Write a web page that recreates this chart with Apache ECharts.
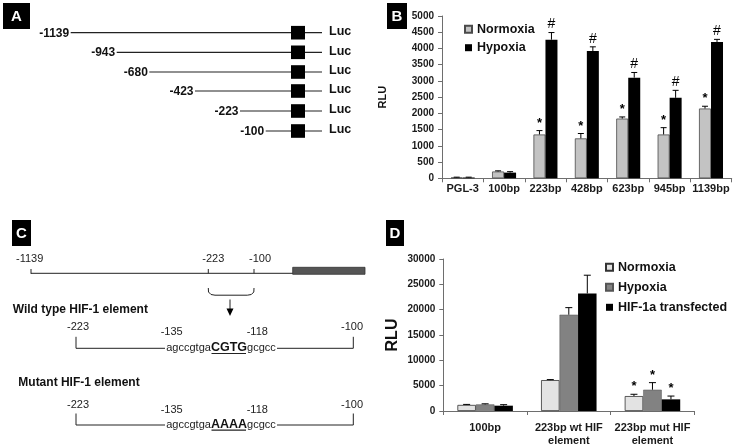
<!DOCTYPE html>
<html><head><meta charset="utf-8">
<script src="https://cdn.jsdelivr.net/npm/echarts@6/dist/echarts.min.js"></script>
<style>html,body{margin:0;padding:0;background:#fff}#c{width:735px;height:447px}</style>
</head><body><div id="c"></div>
<script>
// ---------- Panel B data ----------
const bCategories = ['PGL-3','100bp','223bp','428bp','623bp','945bp','1139bp'];
const bNormoxia    = [25, 210, 1350, 1230, 1840, 1350, 2150];
const bNormoxiaErr = [10, 20, 120, 150, 50, 210, 70];
const bHypoxia     = [25, 175, 4270, 3920, 3100, 2480, 4200];
const bHypoxiaErr  = [10, 30, 220, 130, 160, 230, 80];
const bNormoxiaMark = ['', '', '*', '*', '*', '*', '*'];
const bHypoxiaMark  = ['', '', '#', '#', '#', '#', '#'];
const bYMax = 5000, bYStep = 500;

// ---------- Panel D data ----------
const dCategories = ['100bp', '223bp wt HIF\nelement', '223bp mut HIF\nelement'];
const dNormoxia    = [1200, 6100, 2950];
const dNormoxiaErr = [100, 100, 350];
const dHypoxia     = [1300, 19000, 4200];
const dHypoxiaErr  = [120, 1400, 1400];
const dHif         = [1050, 23200, 2300];
const dHifErr      = [200, 3600, 650];
const dNormoxiaMark = ['', '', '*'];
const dHypoxiaMark  = ['', '', '*'];
const dHifMark      = ['', '', '*'];
const dYMax = 30000, dYStep = 5000;

// ---------- Panel A / C text ----------
const aConstructs = ['-1139', '-943', '-680', '-423', '-223', '-100'];
const aReporter = 'Luc';
const cTopLabels = ['-1139', '-223', '-100'];
const cRowLabels = ['-223', '-135', '-118', '-100'];
const cWildTitle = 'Wild type HIF-1 element';
const cMutTitle = 'Mutant HIF-1 element';
const cSeqLeft = 'agccgtga', cSeqRight = 'gcgcc';
const cWildCore = 'CGTG', cMutCore = 'AAAA';

// ---------- layout ----------
const FONT = '"Liberation Sans", Arial, sans-serif';
const aRowY = [32.7, 52.3, 72, 91, 111, 131];
const aStartX = [70.7, 116.7, 149.3, 195, 240, 265.7];

const chart = echarts.init(document.getElementById('c'), null, {renderer: 'canvas'});

function errSeries(name, gi, vals, errs, marks, offset, capW, markStyle) {
  return {
    type: 'custom', name: name, xAxisIndex: gi, yAxisIndex: gi, z: 5, silent: true, clip: false,
    data: vals.map((v, i) => [i, v, errs[i]]),
    encode: {x: 0, y: 1},
    renderItem: function (params, api) {
      const i = api.value(0), v = api.value(1), e = api.value(2);
      const base = api.coord([i, v]);
      const top = api.coord([i, v + e])[1];
      const x = base[0] + offset;
      const ch = [
        {type: 'line', shape: {x1: x, y1: base[1], x2: x, y2: top}, style: {stroke: '#000', lineWidth: 1}},
        {type: 'line', shape: {x1: x - capW / 2, y1: top, x2: x + capW / 2, y2: top}, style: {stroke: '#000', lineWidth: 1}}
      ];
      const m = marks[params.dataIndex];
      if (m) {
        ch.push({type: 'text', style: Object.assign({text: m, x: x, y: top - 1, textAlign: 'center', textVerticalAlign: 'bottom', fill: '#000', fontFamily: FONT}, markStyle[m])});
      }
      return {type: 'group', children: ch};
    }
  };
}

const markB = {'*': {fontSize: 13, fontWeight: 'bold'}, '#': {fontSize: 14, fontWeight: 'normal'}};
const markD = {'*': {fontSize: 13, fontWeight: 'bold'}};

const axisLineStyle = {lineStyle: {color: '#6e6e6e', width: 1}};
const plain = v => String(v);

// graphics for panels A and C
const g = [];
function box(x, y, w, h, letter) {
  g.push({type: 'rect', shape: {x: x, y: y, width: w, height: h}, style: {fill: '#000'}});
  g.push({type: 'text', style: {text: letter, x: x + w / 2, y: y + h / 2 + 0.5, textAlign: 'center', textVerticalAlign: 'middle', fill: '#fff', fontSize: 15, fontWeight: 'bold', fontFamily: FONT}});
}
box(3, 3, 27, 26, 'A');
box(387, 3, 20, 26, 'B');
box(12, 220, 19, 26, 'C');
box(386, 220, 18, 26, 'D');

// Panel A
aConstructs.forEach((lab, k) => {
  const y = aRowY[k];
  g.push({type: 'line', shape: {x1: aStartX[k], y1: y, x2: 322, y2: y}, style: {stroke: '#222', lineWidth: 1.2}});
  g.push({type: 'rect', shape: {x: 291, y: y - 6.8, width: 14, height: 13.6}, style: {fill: '#000'}});
  g.push({type: 'text', style: {text: lab, x: aStartX[k] - 1.5, y: y + 0.5, textAlign: 'right', textVerticalAlign: 'middle', fill: '#111', fontSize: 12, fontWeight: 'bold', fontFamily: FONT}});
  g.push({type: 'text', style: {text: aReporter, x: 329, y: y - 1, textAlign: 'left', textVerticalAlign: 'middle', fill: '#111', fontSize: 12.5, fontWeight: 'bold', fontFamily: FONT}});
});

// Panel C
const ln = (x1, y1, x2, y2, w) => g.push({type: 'line', shape: {x1, y1, x2, y2}, style: {stroke: '#222', lineWidth: w || 1}});
const tx = (t, x, y, o) => g.push({type: 'text', style: Object.assign({text: t, x: x, y: y, textAlign: 'center', textVerticalAlign: 'middle', fill: '#222', fontSize: 11, fontFamily: FONT}, o || {})});
ln(31, 273.3, 293, 273.3);
ln(31, 269, 31, 273.8); ln(208.3, 269, 208.3, 273.3); ln(254, 269, 254, 273.3);
g.push({type: 'rect', shape: {x: 292.7, y: 267.3, width: 72.3, height: 7}, style: {fill: '#555', stroke: '#333', lineWidth: 0.8}});
tx(cTopLabels[0], 29.7, 259.3); tx(cTopLabels[1], 213.3, 259.3); tx(cTopLabels[2], 260, 259.3);
g.push({type: 'polyline', shape: {points: [[208.3, 288], [208.5, 292], [211, 294.5], [215, 295.2], [247.3, 295.2], [251.3, 294.5], [253.8, 292], [254, 288]]}, style: {stroke: '#222', lineWidth: 1, fill: null}});
ln(230, 299.5, 230, 310);
g.push({type: 'polygon', shape: {points: [[226.5, 308.5], [233.5, 308.5], [230, 316]]}, style: {fill: '#000'}});

function seqRow(title, titleX, titleY, labY, lineY, core) {
  tx(title, titleX, titleY, {textAlign: 'left', fontSize: 12, fontWeight: 'bold', fill: '#111'});
  tx(cRowLabels[0], 78, labY); tx(cRowLabels[1], 171.7, labY + 5); tx(cRowLabels[2], 257.3, labY + 5); tx(cRowLabels[3], 352, labY);
  ln(76, lineY - 11.5, 76, lineY); ln(353.3, lineY - 11.5, 353.3, lineY);
  ln(76, lineY, 165, lineY); ln(277, lineY, 353.3, lineY);
  g.push({type: 'text', style: {text: cSeqLeft + '{b|' + core + '}' + cSeqRight, x: 221, y: lineY - 0.5, textAlign: 'center', textVerticalAlign: 'middle', fill: '#222', fontSize: 11, fontFamily: FONT,
    rich: {b: {fontSize: 12.5, fontWeight: 'bold', fill: '#111', fontFamily: FONT}}}});
  ln(211.5, lineY + 5.2, 246, lineY + 5.2, 1.2);
}
seqRow(cWildTitle, 12.7, 309.3, 327.3, 348.3, cWildCore);
seqRow(cMutTitle, 18.3, 382.7, 405, 425, cMutCore);

const option = {
  animation: false,
  backgroundColor: '#fff',
  textStyle: {fontFamily: FONT},
  grid: [
    {left: 442, right: 3.3, top: 16, bottom: 268.7},
    {left: 443.3, right: 40.7, top: 259, bottom: 36}
  ],
  legend: [
    {orient: 'vertical', left: 459, top: 17.3, itemWidth: 7, itemHeight: 7, itemGap: 4.4, icon: 'rect',
      data: ['Normoxia', 'Hypoxia'], selectedMode: false,
      textStyle: {fontSize: 12.5, fontWeight: 'bold', color: '#111', lineHeight: 14, fontFamily: FONT}},
    {orient: 'vertical', left: 600, top: 255.3, itemWidth: 7, itemHeight: 7, itemGap: 6, icon: 'rect',
      data: ['D:Normoxia', 'D:Hypoxia', 'D:HIF-1a transfected'], selectedMode: false,
      formatter: n => n.replace(/^D:/, ''),
      textStyle: {fontSize: 12.5, fontWeight: 'bold', color: '#111', lineHeight: 14, fontFamily: FONT}}
  ],
  xAxis: [
    {type: 'category', gridIndex: 0, data: bCategories, axisLine: axisLineStyle,
      axisTick: {show: true, length: 4, lineStyle: {color: '#6e6e6e'}},
      axisLabel: {interval: 0, margin: 5, fontSize: 11, fontWeight: 'bold', color: '#1a1a1a', fontFamily: FONT}},
    {type: 'category', gridIndex: 1, data: dCategories, axisLine: axisLineStyle,
      axisTick: {show: true, length: 4, lineStyle: {color: '#6e6e6e'}},
      axisLabel: {interval: 0, margin: 11, fontSize: 11, fontWeight: 'bold', lineHeight: 12.5, color: '#1a1a1a', fontFamily: FONT}}
  ],
  yAxis: [
    {type: 'value', gridIndex: 0, min: 0, max: bYMax, interval: bYStep, splitLine: {show: false},
      axisLine: Object.assign({show: true}, axisLineStyle), axisTick: {show: true, length: 4, lineStyle: {color: '#6e6e6e'}},
      axisLabel: {margin: 8, fontSize: 10, fontWeight: 'bold', color: '#1a1a1a', fontFamily: FONT, formatter: plain},
      name: 'RLU', nameLocation: 'middle', nameRotate: 90, nameGap: 54,
      nameTextStyle: {fontSize: 11, fontWeight: 'bold', color: '#111', fontFamily: FONT}},
    {type: 'value', gridIndex: 1, min: 0, max: dYMax, interval: dYStep, splitLine: {show: false},
      axisLine: Object.assign({show: true}, axisLineStyle), axisTick: {show: true, length: 4, lineStyle: {color: '#6e6e6e'}},
      axisLabel: {margin: 8, fontSize: 10, fontWeight: 'bold', color: '#1a1a1a', fontFamily: FONT, formatter: plain},
      name: 'RLU', nameLocation: 'middle', nameRotate: 90, nameGap: 43,
      nameTextStyle: {fontSize: 16, fontWeight: 'bold', color: '#111', fontFamily: FONT}}
  ],
  series: [
    {type: 'bar', name: 'Normoxia', xAxisIndex: 0, yAxisIndex: 0, data: bNormoxia, barWidth: 12, barGap: '0%',
      itemStyle: {color: '#c3c3c3', borderColor: '#4a4a4a', borderWidth: 0.8}},
    {type: 'bar', name: 'Hypoxia', xAxisIndex: 0, yAxisIndex: 0, data: bHypoxia, barWidth: 12, barGap: '0%',
      itemStyle: {color: '#000'}},
    errSeries('errBN', 0, bNormoxia, bNormoxiaErr, bNormoxiaMark, -6, 6, markB),
    errSeries('errBH', 0, bHypoxia, bHypoxiaErr, bHypoxiaMark, 6, 6, markB),
    {type: 'bar', name: 'D:Normoxia', xAxisIndex: 1, yAxisIndex: 1, data: dNormoxia, barWidth: 18.5, barGap: '0%',
      itemStyle: {color: '#e3e3e3', borderColor: '#333', borderWidth: 0.8}},
    {type: 'bar', name: 'D:Hypoxia', xAxisIndex: 1, yAxisIndex: 1, data: dHypoxia, barWidth: 18.5, barGap: '0%',
      itemStyle: {color: '#828282', borderColor: '#555', borderWidth: 0.5}},
    {type: 'bar', name: 'D:HIF-1a transfected', xAxisIndex: 1, yAxisIndex: 1, data: dHif, barWidth: 18.5, barGap: '0%',
      itemStyle: {color: '#000'}},
    errSeries('errDN', 1, dNormoxia, dNormoxiaErr, dNormoxiaMark, -18.5, 7, markD),
    errSeries('errDH', 1, dHypoxia, dHypoxiaErr, dHypoxiaMark, 0, 7, markD),
    errSeries('errDF', 1, dHif, dHifErr, dHifMark, 18.5, 7, markD)
  ],
  graphic: g
};
chart.setOption(option);
</script>
</body></html>
